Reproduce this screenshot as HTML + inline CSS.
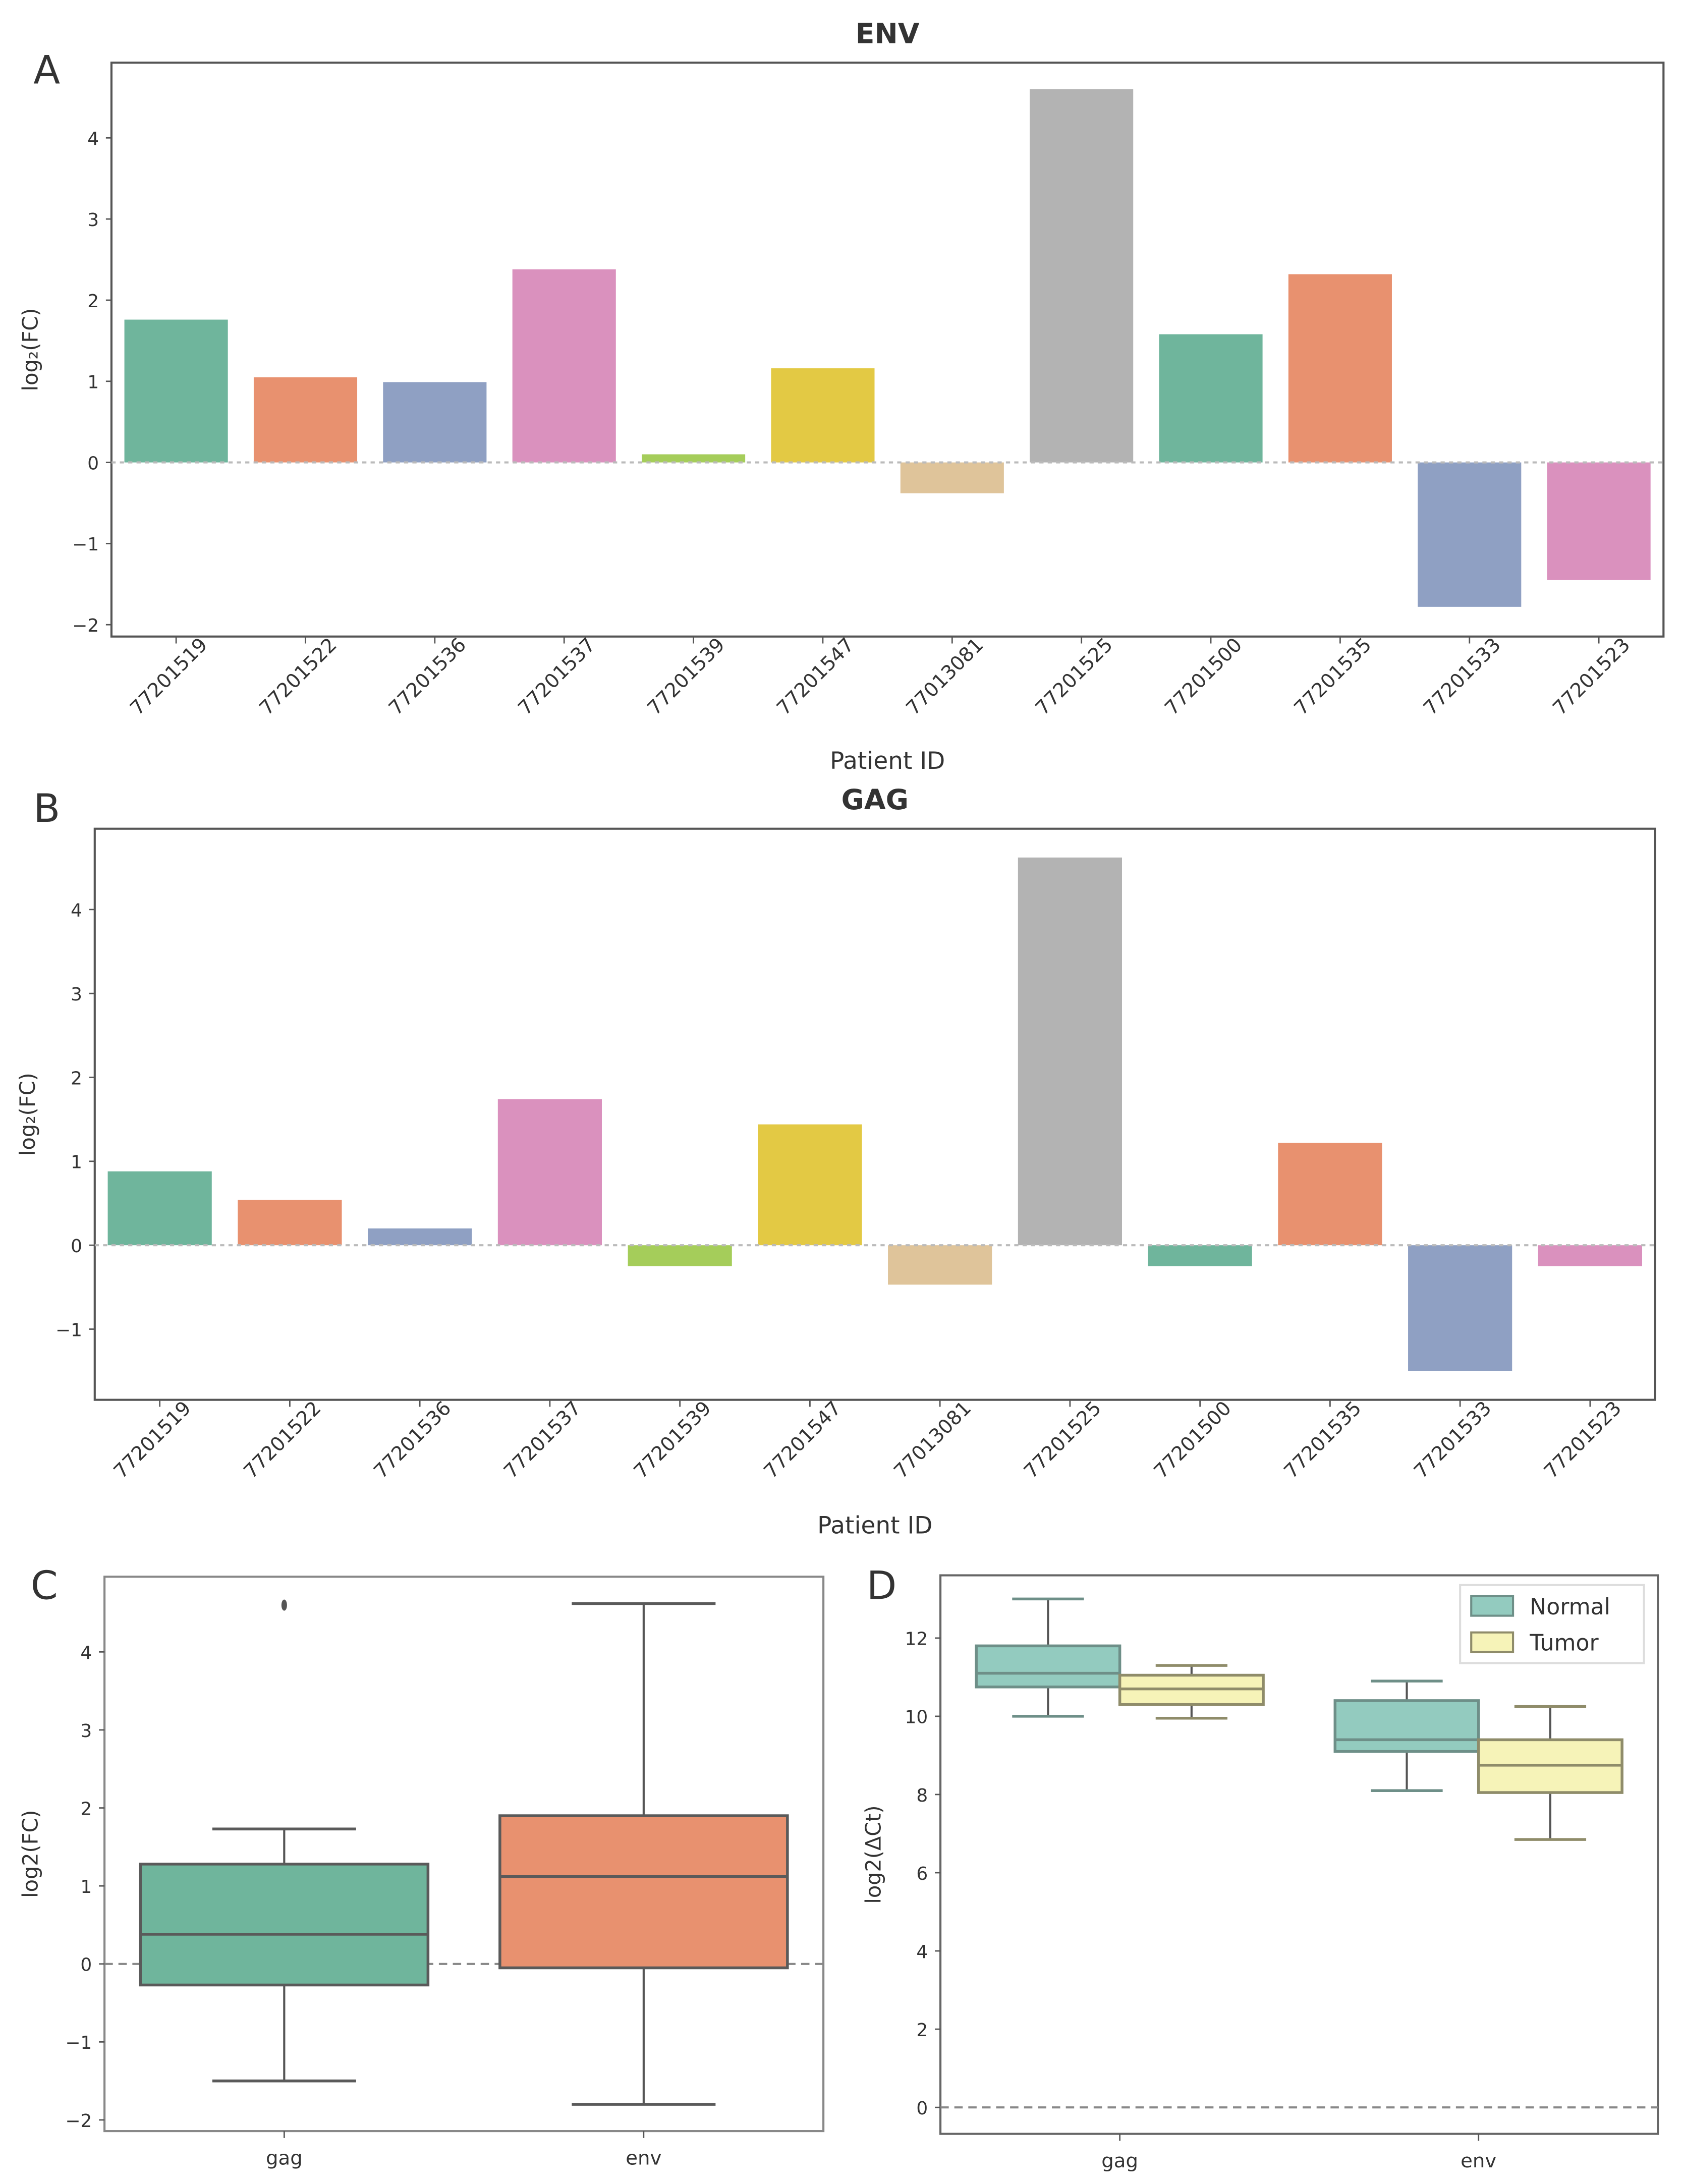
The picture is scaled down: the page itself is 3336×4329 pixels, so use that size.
<!DOCTYPE html>
<html><head><meta charset="utf-8"><style>
html,body{margin:0;padding:0;background:#fff;}
svg{display:block;}
text{font-family:"DejaVu Sans","Liberation Sans",sans-serif;fill:#333;}
</style></head><body>
<svg id="fig" width="3336" height="4329" viewBox="0 0 1208 1568" preserveAspectRatio="none" xmlns="http://www.w3.org/2000/svg"></svg>
<script>
// ---- data ----
const patients = ["77201519","77201522","77201536","77201537","77201539","77201547","77013081","77201525","77201500","77201535","77201533","77201523"];
const envValues = [1.76,1.05,0.99,2.38,0.1,1.16,-0.38,4.6,1.58,2.32,-1.78,-1.45];
const gagValues = [0.88,0.54,0.2,1.74,-0.25,1.44,-0.47,4.62,-0.25,1.22,-1.5,-0.25];
const barColors = ["#6fb59c","#e8916f","#8fa0c3","#da91be","#a5cd5a","#e3c944","#dfc49a","#b3b3b3","#6fb59c","#e8916f","#8fa0c3","#da91be"];
const ticksA = [-2,-1,0,1,2,3,4];
const ticksB = [-1,0,1,2,3,4];
const boxCats = ["gag","env"];
// [whiskerLow, q1, median, q3, whiskerHigh]
const boxCStats = [[-1.5,-0.27,0.38,1.28,1.73],[-1.8,-0.05,1.12,1.9,4.62]];
const boxCOutliers = [[4.6],[]];
const ticksC = [-2,-1,0,1,2,3,4];
const hueNames = ["Normal","Tumor"];
const boxDNormal = [[10,10.75,11.1,11.8,13],[8.1,9.1,9.4,10.4,10.9]];
const boxDTumor = [[9.95,10.3,10.7,11.05,11.3],[6.85,8.05,8.75,9.4,10.25]];
const ticksD = [0,2,4,6,8,10,12];

const NS="http://www.w3.org/2000/svg";
const svg=document.getElementById('fig');
function el(tag,attrs,parent){const e=document.createElementNS(NS,tag);for(const k in attrs)e.setAttribute(k,attrs[k]);(parent||svg).appendChild(e);return e;}
function txt(s,attrs,parent){const t=el('text',attrs,parent);t.textContent=s;return t;}

function barPanel(p){
  const g=el('g',{});
  
  
  const y=v=>p.y0-v*p.unit;
  const n=patients.length, step=(p.right-p.left)/n;
  const xc=i=>p.left+step*(i+0.5);
  el('rect',{x:p.left,y:p.top,width:p.right-p.left,height:p.bottom-p.top,fill:'#fff',stroke:'#555','stroke-width':1.5},g);
  p.vals.forEach((v,i)=>{
    const r=el('rect',{x:xc(i)-step*0.4,y:Math.min(y(v),y(0)),width:step*0.8,height:Math.abs(y(v)-y(0)),fill:barColors[i]},g);
    
    
  });
  el('line',{x1:p.left,x2:p.right,y1:y(0),y2:y(0),stroke:'#bbb','stroke-width':1.5,'stroke-dasharray':'3,3'},g);
  p.ticks.forEach(t=>{
    el('line',{x1:p.left-4,x2:p.left,y1:y(t),y2:y(t),stroke:'#555'},g);
    const tt=txt((t<0?'\u2212':'')+Math.abs(t),{x:p.left-9,y:y(t)+5,'text-anchor':'end','font-size':13},g);
    
    
  });
  patients.forEach((pid,i)=>{
    el('line',{x1:xc(i),x2:xc(i),y1:p.bottom,y2:p.bottom+5,stroke:'#555'},g);
    const cx=xc(i)-2, cy=p.bottom+32;
    const tt=txt(pid,{x:cx,y:cy,'text-anchor':'middle','font-size':14,transform:`rotate(-45 ${cx} ${cy})`},g);
    
    
  });
  const ti=txt(p.title,{x:(p.left+p.right)/2,y:p.top-14,'text-anchor':'middle','font-size':20,'font-weight':'bold'},g);
  
  
  const xl=txt('Patient ID',{x:(p.left+p.right)/2,y:p.xlabY,'text-anchor':'middle','font-size':17},g);
  
  
  const yl=txt('log\u2082(FC)',{x:0,y:0,'text-anchor':'middle','font-size':15,transform:`translate(${p.ylabX},${(p.top+p.bottom)/2}) rotate(-90)`},g);
  
  
  const L=txt(p.letter,{x:p.letterX,y:p.letterY,'font-size':28},g);
  
  
}
barPanel({name:'env-bar-chart',vals:envValues,ticks:ticksA,title:'ENV',left:80,right:1194,top:45,bottom:457,y0:332,unit:58.25,xlabY:552,ylabX:27,letter:'A',letterX:24,letterY:60});
barPanel({name:'gag-bar-chart',vals:gagValues,ticks:ticksB,title:'GAG',left:68,right:1188,top:595,bottom:1005,y0:894,unit:60.25,xlabY:1101,ylabX:25,letter:'B',letterX:24,letterY:590});

function drawBox(g,cx,w,s,y,fill,line,name){
  const b=el('g',{},g);
  
  
  el('line',{x1:cx,x2:cx,y1:y(s[0]),y2:y(s[1]),stroke:'#555','stroke-width':1.5},b);
  el('line',{x1:cx,x2:cx,y1:y(s[3]),y2:y(s[4]),stroke:'#555','stroke-width':1.5},b);
  el('line',{x1:cx-w*0.25,x2:cx+w*0.25,y1:y(s[0]),y2:y(s[0]),stroke:line,'stroke-width':2},b);
  el('line',{x1:cx-w*0.25,x2:cx+w*0.25,y1:y(s[4]),y2:y(s[4]),stroke:line,'stroke-width':2},b);
  el('rect',{x:cx-w/2,y:y(s[3]),width:w,height:y(s[1])-y(s[3]),fill:fill,stroke:line,'stroke-width':2},b);
  el('line',{x1:cx-w/2,x2:cx+w/2,y1:y(s[2]),y2:y(s[2]),stroke:line,'stroke-width':2},b);
}

// Panel C
(function(){
  const g=el('g',{});
  
  
  const left=75,right=591,top=1132,bottom=1530,y0=1410,unit=56;
  const y=v=>y0-v*unit;
  const step=(right-left)/boxCats.length, xc=i=>left+step*(i+0.5);
  el('rect',{x:left,y:top,width:right-left,height:bottom-top,fill:'#fff',stroke:'#888','stroke-width':1.5},g);
  el('line',{x1:left,x2:right,y1:y(0),y2:y(0),stroke:'#888','stroke-width':1.5,'stroke-dasharray':'6,4'},g);
  const cols=["#6fb59c","#e8916f"];
  boxCStats.forEach((s,i)=>{
    drawBox(g,xc(i),step*0.8,s,y,cols[i],'#5a5a5a','box-'+boxCats[i]);
    boxCOutliers[i].forEach(o=>{const c=el('ellipse',{cx:xc(i),cy:y(o),rx:2,ry:4,fill:'#555'},g);});
  });
  ticksC.forEach(t=>{
    el('line',{x1:left-4,x2:left,y1:y(t),y2:y(t),stroke:'#555'},g);
    txt((t<0?'\u2212':'')+Math.abs(t),{x:left-9,y:y(t)+5,'text-anchor':'end','font-size':13},g);
  });
  boxCats.forEach((c,i)=>{
    el('line',{x1:xc(i),x2:xc(i),y1:bottom,y2:bottom+5,stroke:'#555'},g);
    const t=txt(c,{x:xc(i),y:bottom+24,'text-anchor':'middle','font-size':14},g);
    
  });
  const yl=txt('log2(FC)',{x:0,y:0,'text-anchor':'middle','font-size':15,transform:`translate(27,${(top+bottom)/2}) rotate(-90)`},g);
  
  const L=txt('C',{x:22,y:1148,'font-size':28},g);
  
})();

// Panel D
(function(){
  const g=el('g',{});
  
  
  const left=675,right=1190,top=1131,bottom=1532,y0=1513,unit=28.08;
  const y=v=>y0-v*unit;
  const step=(right-left)/boxCats.length, xc=i=>left+step*(i+0.5);
  const w=step*0.4;
  el('rect',{x:left,y:top,width:right-left,height:bottom-top,fill:'#fff',stroke:'#666','stroke-width':1.5},g);
  el('line',{x1:left,x2:right,y1:y(0),y2:y(0),stroke:'#888','stroke-width':1.5,'stroke-dasharray':'6,4'},g);
  boxCats.forEach((c,i)=>{
    drawBox(g,xc(i)-w/2,w,boxDNormal[i],y,'#93cbbf','#6e8f88','box-'+c+'-normal');
    drawBox(g,xc(i)+w/2,w,boxDTumor[i],y,'#f6f3b8','#8f8c6a','box-'+c+'-tumor');
    el('line',{x1:xc(i),x2:xc(i),y1:bottom,y2:bottom+5,stroke:'#555'},g);
    const t=txt(c,{x:xc(i),y:bottom+24,'text-anchor':'middle','font-size':14},g);
    
  });
  ticksD.forEach(t=>{
    el('line',{x1:left-4,x2:left,y1:y(t),y2:y(t),stroke:'#555'},g);
    txt(String(t),{x:left-9,y:y(t)+5,'text-anchor':'end','font-size':13},g);
  });
  const yl=txt('log2(\u0394Ct)',{x:0,y:0,'text-anchor':'middle','font-size':15,transform:`translate(632,${(top+bottom)/2}) rotate(-90)`},g);
  
  const lg=el('g',{},g);
  
  
  el('rect',{x:1048,y:1138,width:132,height:56,fill:'#fff',stroke:'#ddd','stroke-width':1.5},lg);
  const lc=[['#93cbbf','#6e8f88'],['#f6f3b8','#8f8c6a']];
  hueNames.forEach((h,i)=>{
    el('rect',{x:1056,y:1146+i*26,width:30,height:14,fill:lc[i][0],stroke:lc[i][1],'stroke-width':1.5},lg);
    const t=txt(h,{x:1098,y:1159+i*26,'font-size':16,fill:'#444'},lg);
    
  });
  const L=txt('D',{x:622,y:1148,'font-size':28},g);
  
})();
</script>
</body></html>
